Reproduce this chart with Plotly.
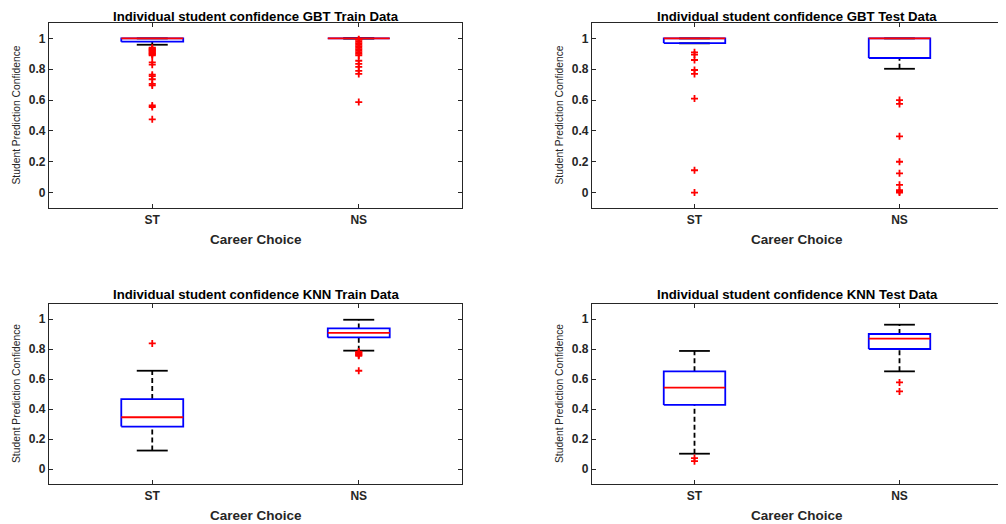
import plotly.graph_objects as go

# page is 1006x524; the html body has an 8px default margin
PAGE_OFF = 8
W, H = 1006 - PAGE_OFF, 524 - PAGE_OFF

categories = ["ST", "NS"]
panel_titles = [
    "Individual student confidence GBT Train Data",
    "Individual student confidence GBT Test Data",
    "Individual student confidence KNN Train Data",
    "Individual student confidence KNN Test Data",
]

# per panel: [ST, NS] box statistics
gbt_train_q1 = [0.979, 1.0]
gbt_train_median = [1.0, 1.0]
gbt_train_q3 = [1.0, 1.0]
gbt_train_lower = [0.959, 1.0]
gbt_train_upper = [1.0, 1.0]
gbt_train_outliers_st = [0.94, 0.935, 0.93, 0.925, 0.92, 0.915, 0.91, 0.905, 0.90, 0.895, 0.89,
                         0.845, 0.83, 0.765, 0.755, 0.735, 0.705, 0.695, 0.565, 0.555, 0.475]
gbt_train_outliers_ns = [0.995, 0.99, 0.98, 0.97, 0.96, 0.95, 0.94, 0.93, 0.92, 0.91, 0.90, 0.89,
                         0.855, 0.835, 0.815, 0.79, 0.77, 0.587]

gbt_test_q1 = [0.970, 0.873]
gbt_test_median = [1.0, 1.0]
gbt_test_q3 = [1.0, 1.0]
gbt_test_lower = [0.968, 0.803]
gbt_test_upper = [1.0, 1.0]
gbt_test_outliers_st = [0.91, 0.895, 0.86, 0.795, 0.77, 0.61, 0.145, 0.0]
gbt_test_outliers_ns = [0.60, 0.575, 0.365, 0.20, 0.125, 0.05, 0.015, 0.005, 0.0]

knn_train_q1 = [0.283, 0.877]
knn_train_median = [0.345, 0.908]
knn_train_q3 = [0.466, 0.937]
knn_train_lower = [0.123, 0.789]
knn_train_upper = [0.655, 0.995]
knn_train_outliers_st = [0.837]
knn_train_outliers_ns = [0.783, 0.778, 0.772, 0.766, 0.760, 0.755, 0.655]

knn_test_q1 = [0.427, 0.800]
knn_test_median = [0.543, 0.869]
knn_test_q3 = [0.651, 0.900]
knn_test_lower = [0.102, 0.651]
knn_test_upper = [0.787, 0.962]
knn_test_outliers_st = [0.073, 0.052]
knn_test_outliers_ns = [0.577, 0.517]

panels = [
    (gbt_train_q1, gbt_train_median, gbt_train_q3, gbt_train_lower, gbt_train_upper,
     [gbt_train_outliers_st, gbt_train_outliers_ns]),
    (gbt_test_q1, gbt_test_median, gbt_test_q3, gbt_test_lower, gbt_test_upper,
     [gbt_test_outliers_st, gbt_test_outliers_ns]),
    (knn_train_q1, knn_train_median, knn_train_q3, knn_train_lower, knn_train_upper,
     [knn_train_outliers_st, knn_train_outliers_ns]),
    (knn_test_q1, knn_test_median, knn_test_q3, knn_test_lower, knn_test_upper,
     [knn_test_outliers_st, knn_test_outliers_ns]),
]

y_ticks = [0, 0.2, 0.4, 0.6, 0.8, 1]
y_tick_labels = ["0", "0.2", "0.4", "0.6", "0.8", "1"]

# page-pixel layout of axes boxes (left, right, top, bottom)
boxes_px = [(49, 462, 23, 208), (592, 1002, 23, 208), (49, 462, 304, 484), (592, 1002, 304, 484)]

HALF = 0.15
AX_COLOR = "#262626"
FONT = "Liberation Sans, Arial, sans-serif"


def px_x(p):
    return (p - PAGE_OFF) / W


def px_y(p):
    return 1 - (p - PAGE_OFF) / H


fig = go.Figure()

for i, (q1, med, q3, lo, up, outs) in enumerate(panels):
    xa = "x" if i == 0 else f"x{i+1}"
    ya = "y" if i == 0 else f"y{i+1}"
    for g in range(2):
        c = g + 1
        # whiskers (dashed)
        if up[g] > q3[g]:
            fig.add_trace(go.Scatter(x=[c, c], y=[q3[g], up[g]], mode="lines",
                                     line=dict(color="black", width=1.8, dash="5px,3px"),
                                     xaxis=xa, yaxis=ya, hoverinfo="skip"))
        if lo[g] < q1[g]:
            fig.add_trace(go.Scatter(x=[c, c], y=[lo[g], q1[g]], mode="lines",
                                     line=dict(color="black", width=1.8, dash="5px,3px"),
                                     xaxis=xa, yaxis=ya, hoverinfo="skip"))
        # caps
        for v in (lo[g], up[g]):
            fig.add_trace(go.Scatter(x=[c - HALF / 2, c + HALF / 2], y=[v, v], mode="lines",
                                     line=dict(color="black", width=1.8),
                                     xaxis=xa, yaxis=ya, hoverinfo="skip"))
        # box
        fig.add_trace(go.Scatter(x=[c - HALF, c + HALF, c + HALF, c - HALF, c - HALF],
                                 y=[q1[g], q1[g], q3[g], q3[g], q1[g]], mode="lines",
                                 line=dict(color="blue", width=1.8),
                                 xaxis=xa, yaxis=ya, hoverinfo="skip"))
        # median
        fig.add_trace(go.Scatter(x=[c - HALF, c + HALF], y=[med[g], med[g]], mode="lines",
                                 line=dict(color="red", width=1.8),
                                 xaxis=xa, yaxis=ya, hoverinfo="skip"))
        # outliers
        fig.add_trace(go.Scatter(x=[c] * len(outs[g]), y=outs[g], mode="markers",
                                 marker=dict(symbol="cross-thin", size=5, color="red",
                                             line=dict(color="red", width=1.8)),
                                 xaxis=xa, yaxis=ya, hoverinfo="skip"))

layout = dict(width=W, height=H, margin=dict(l=0, r=0, t=0, b=0),
              plot_bgcolor="white", paper_bgcolor="white", showlegend=False,
              font=dict(family=FONT, color=AX_COLOR))

annotations = []
for i, (l, r, t, b) in enumerate(boxes_px):
    sfx = "" if i == 0 else str(i + 1)
    xdom = [px_x(l), min(1.0, px_x(r))]
    ydom = [px_y(b), px_y(t)]
    common = dict(showgrid=False, zeroline=False, showline=True, linecolor=AX_COLOR, linewidth=1.2,
                  mirror="ticks", ticks="inside", ticklen=4, tickcolor=AX_COLOR, tickwidth=1.2,
                  tickfont=dict(family=FONT, size=12, color=AX_COLOR, weight="bold"))
    layout["xaxis" + sfx] = dict(domain=xdom, range=[0.5, 2.5], tickvals=[1, 2], ticktext=categories,
                                 anchor="y" + sfx, fixedrange=True, **common)
    layout["yaxis" + sfx] = dict(domain=ydom, range=[-0.1, 1.1], tickvals=y_ticks, ticktext=y_tick_labels,
                                 anchor="x" + sfx, fixedrange=True, **common)
    cx = px_x((l + r) / 2)
    # title
    if i < 2:
        annotations.append(dict(text=panel_titles[i], x=cx, y=1.0, xref="paper", yref="paper",
                                xanchor="center", yanchor="top", showarrow=False, borderpad=0,
                                font=dict(family=FONT, size=13.2, color="black", weight="bold")))
    else:
        annotations.append(dict(text=panel_titles[i], x=cx, y=px_y(t - 10), xref="paper", yref="paper",
                                xanchor="center", yanchor="middle", showarrow=False,
                                font=dict(family=FONT, size=13.2, color="black", weight="bold")))
    # x title
    annotations.append(dict(text="Career Choice", x=cx, y=px_y(b + 31), xref="paper", yref="paper",
                            xanchor="center", yanchor="middle", showarrow=False,
                            font=dict(family=FONT, size=13.5, color=AX_COLOR, weight="bold")))
    # y title
    annotations.append(dict(text="Student Prediction Confidence", x=px_x(l - 33), y=px_y((t + b) / 2),
                            xref="paper", yref="paper", xanchor="center", yanchor="middle",
                            showarrow=False, textangle=-90,
                            font=dict(family=FONT, size=10.3, color=AX_COLOR)))

layout["annotations"] = annotations
fig.update_layout(**layout)
fig.write_html("out.html")
